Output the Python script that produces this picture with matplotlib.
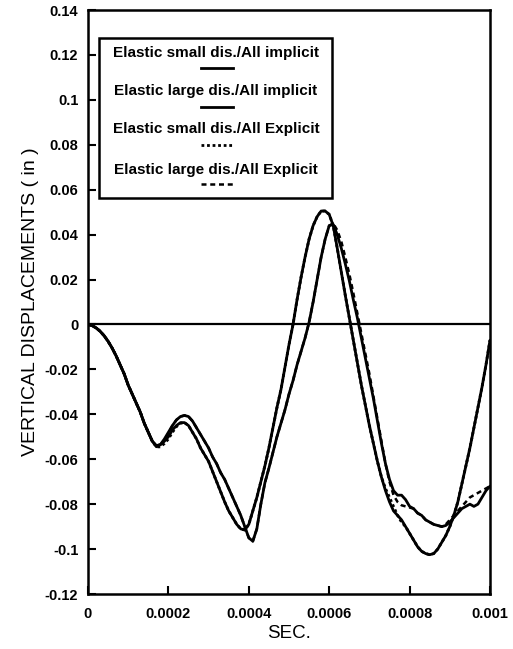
import numpy as np
import matplotlib
matplotlib.use("Agg")
import matplotlib.pyplot as plt
from matplotlib.patches import Rectangle
from matplotlib.lines import Line2D

# ---------------- data ----------------
time_us = list(range(0, 1001, 10))          # microseconds (x 1e-6 s)
time_s = [t * 1e-6 for t in time_us]

small_implicit = [
    0.0, -0.0005, -0.0015, -0.003, -0.005, -0.0075, -0.0105, -0.014, -0.018, -0.022,
    -0.027, -0.031, -0.035, -0.039, -0.044, -0.048, -0.052, -0.054, -0.0535, -0.052,
    -0.050, -0.047, -0.045, -0.0437, -0.0437, -0.045, -0.048, -0.051, -0.055, -0.058,
    -0.061, -0.0655, -0.070, -0.0745, -0.079, -0.083, -0.086, -0.089, -0.091, -0.0915,
    -0.089, -0.083, -0.077, -0.070, -0.063, -0.055, -0.046, -0.037, -0.029, -0.019,
    -0.009, 0.000, 0.011, 0.021, 0.030, 0.038, 0.044, 0.048, 0.0505, 0.0505,
    0.049, 0.044, 0.034, 0.0235, 0.013, 0.003, -0.007, -0.017, -0.027, -0.036,
    -0.045, -0.053, -0.061, -0.068, -0.074, -0.079, -0.083, -0.085, -0.087, -0.090,
    -0.093, -0.096, -0.099, -0.101, -0.102, -0.1025, -0.102, -0.100, -0.097, -0.094,
    -0.090, -0.085, -0.079, -0.071, -0.063, -0.055, -0.046, -0.037, -0.028, -0.018,
    -0.007]

large_implicit = [
    0.0, -0.0005, -0.0015, -0.003, -0.005, -0.0075, -0.0105, -0.014, -0.018, -0.022,
    -0.027, -0.031, -0.035, -0.039, -0.044, -0.048, -0.052, -0.054, -0.0535, -0.051,
    -0.048, -0.045, -0.0425, -0.041, -0.0405, -0.041, -0.043, -0.046, -0.049, -0.052,
    -0.055, -0.059, -0.062, -0.066, -0.069, -0.073, -0.077, -0.081, -0.085, -0.090,
    -0.095, -0.0965, -0.091, -0.080, -0.0705, -0.064, -0.057, -0.050, -0.044, -0.038,
    -0.031, -0.025, -0.018, -0.012, -0.006, 0.001, 0.010, 0.020, 0.030, 0.038,
    0.044, 0.0445, 0.040, 0.034, 0.027, 0.0195, 0.011, 0.003, -0.006, -0.015,
    -0.024, -0.033, -0.043, -0.053, -0.062, -0.069, -0.074, -0.076, -0.076, -0.078,
    -0.081, -0.082, -0.084, -0.085, -0.087, -0.088, -0.089, -0.0895, -0.090, -0.0895,
    -0.088, -0.086, -0.084, -0.082, -0.081, -0.080, -0.081, -0.080, -0.077, -0.074,
    -0.072]

small_explicit = [
    0.0, -0.0005, -0.0015, -0.003, -0.005, -0.0075, -0.0105, -0.014, -0.018, -0.022,
    -0.027, -0.031, -0.035, -0.039, -0.044, -0.048, -0.052, -0.0545, -0.0545, -0.053,
    -0.051, -0.048, -0.0455, -0.044, -0.0437, -0.045, -0.048, -0.051, -0.055, -0.058,
    -0.061, -0.0655, -0.070, -0.0745, -0.079, -0.083, -0.086, -0.089, -0.091, -0.0915,
    -0.089, -0.083, -0.077, -0.070, -0.063, -0.055, -0.046, -0.037, -0.029, -0.019,
    -0.009, 0.000, 0.011, 0.021, 0.030, 0.038, 0.044, 0.048, 0.0505, 0.0505,
    0.049, 0.044, 0.034, 0.0235, 0.013, 0.003, -0.007, -0.017, -0.027, -0.036,
    -0.045, -0.053, -0.061, -0.068, -0.073, -0.077, -0.081, -0.085, -0.088, -0.090,
    -0.093, -0.096, -0.099, -0.101, -0.102, -0.1025, -0.102, -0.100, -0.097, -0.094,
    -0.090, -0.085, -0.079, -0.071, -0.063, -0.055, -0.046, -0.037, -0.028, -0.018,
    -0.007]

large_explicit = [
    0.0, -0.0005, -0.0015, -0.003, -0.005, -0.0075, -0.0105, -0.014, -0.018, -0.022,
    -0.027, -0.031, -0.035, -0.039, -0.044, -0.048, -0.052, -0.0545, -0.054, -0.0515,
    -0.0485, -0.045, -0.0425, -0.041, -0.0405, -0.041, -0.043, -0.046, -0.049, -0.052,
    -0.055, -0.059, -0.062, -0.066, -0.069, -0.073, -0.077, -0.081, -0.085, -0.090,
    -0.095, -0.0965, -0.091, -0.080, -0.0705, -0.064, -0.057, -0.050, -0.044, -0.038,
    -0.031, -0.025, -0.018, -0.012, -0.006, 0.001, 0.010, 0.020, 0.030, 0.038,
    0.044, 0.045, 0.042, 0.037, 0.030, 0.0225, 0.014, 0.005, -0.004, -0.013,
    -0.022, -0.032, -0.042, -0.052, -0.062, -0.070, -0.076, -0.079, -0.0805, -0.081,
    -0.0815, -0.082, -0.084, -0.085, -0.087, -0.088, -0.089, -0.0895, -0.090, -0.089,
    -0.087, -0.085, -0.083, -0.081, -0.079, -0.077, -0.076, -0.075, -0.074, -0.073,
    -0.072]

legend_labels = ["Elastic small dis./All implicit",
                 "Elastic large dis./All implicit",
                 "Elastic small dis./All Explicit",
                 "Elastic large dis./All Explicit"]

x_ticks = [0, 0.0002, 0.0004, 0.0006, 0.0008, 0.001]
x_tick_labels = ["0", "0.0002", "0.0004", "0.0006", "0.0008", "0.001"]
y_ticks = [0.14, 0.12, 0.1, 0.08, 0.06, 0.04, 0.02, 0, -0.02, -0.04, -0.06, -0.08, -0.1, -0.12]
y_tick_labels = ["0.14", "0.12", "0.1", "0.08", "0.06", "0.04", "0.02", "0",
                 "-0.02", "-0.04", "-0.06", "-0.08", "-0.1", "-0.12"]

# ---------------- plot ----------------
plt.rcParams['font.family'] = ['Liberation Sans', 'DejaVu Sans']

fig = plt.figure(figsize=(5.13, 6.49), dpi=100)
ax = fig.add_axes([88/513, 1 - 594/649, (490 - 88)/513, (594 - 10)/649])

styles = [
    dict(color='black', lw=2.0, ls='-'),
    dict(color='black', lw=2.0, ls='-'),
    dict(color='black', lw=2.0, ls=(0, (1, 1))),
    dict(color='black', lw=1.8, ls=(0, (2, 1.5))),
]
series = [small_implicit, large_implicit, small_explicit, large_explicit]
for vals, st in zip(series, styles):
    ax.plot(time_s, vals, **st, solid_capstyle='round', solid_joinstyle='round')

ax.axhline(0, color='black', lw=1.6)

ax.set_xlim(0, 0.001)
ax.set_ylim(-0.12, 0.14)
ax.set_xticks(x_ticks)
ax.set_xticklabels(x_tick_labels)
ax.set_yticks(y_ticks)
ax.set_yticklabels(y_tick_labels)
ax.tick_params(direction='in', length=6, width=1.5, labelsize=10.5,
               top=False, right=False)
ax.tick_params(axis='x', pad=9)
ax.tick_params(axis='y', pad=7)
for lbl in ax.get_xticklabels() + ax.get_yticklabels():
    lbl.set_fontweight('bold')
for sp in ax.spines.values():
    sp.set_linewidth(1.8)

ax.set_xlabel("SEC.", fontsize=13.5, labelpad=3)
ax.set_ylabel("VERTICAL DISPLACEMENTS ( in )", fontsize=14, labelpad=4)

# ---------------- legend (box with text over sample line) ----------------
def px2ax(px, py):
    return ((px - 88) / (490 - 88), (594 - py) / (594 - 10))

x0, y0 = px2ax(99, 198)
x1, y1 = px2ax(332, 38)
ax.add_patch(Rectangle((x0, y0), x1 - x0, y1 - y0, transform=ax.transAxes,
                       fill=True, facecolor='white', edgecolor='black', lw=1.8, zorder=5))
text_y = [53, 91, 129, 170]
line_y = [68, 107, 145, 184]
for lab, ty, ly, st in zip(legend_labels, text_y, line_y, styles):
    tx, tyy = px2ax(216, ty)
    ax.text(tx, tyy, lab, transform=ax.transAxes, ha='center', va='center',
            fontsize=11, fontweight='bold', zorder=6)
    lx0, lyy = px2ax(201, ly)
    lx1, _ = px2ax(233, ly)
    ax.add_line(Line2D([lx0, lx1], [lyy, lyy], transform=ax.transAxes,
                       color='black', lw=st['lw'], ls=st['ls'], zorder=6))

fig.savefig("out.png", dpi=100)
